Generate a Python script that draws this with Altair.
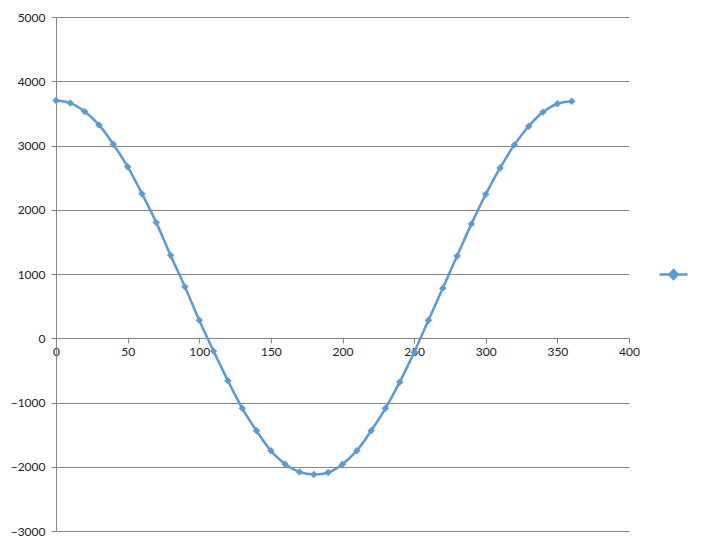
import altair as alt
import pandas as pd

xs = [0, 10, 20, 30, 40, 50, 60, 70, 80, 90, 100, 110, 120, 130, 140, 150, 160, 170, 180,
      190, 200, 210, 220, 230, 240, 250, 260, 270, 280, 290, 300, 310, 320, 330, 340, 350, 360]
ys = [3700, 3660, 3530, 3320, 3020, 2670, 2250, 1800, 1290, 800, 280, -200, -660, -1090,
      -1440, -1750, -1960, -2080, -2120, -2090, -1960, -1750, -1440, -1090, -680, -220,
      280, 780, 1280, 1780, 2240, 2650, 3010, 3300, 3520, 3650, 3690]
series_name = [""] * len(xs)

x_ticks = [0, 50, 100, 150, 200, 250, 300, 350, 400]
y_ticks = [-3000, -2000, -1000, 0, 1000, 2000, 3000, 4000, 5000]

df = pd.DataFrame({"x": xs, "y": ys, "series": series_name})

BLUE = "#5B9BD5"
GRAY = "#868686"
FONT = "Lato"

W, H = 573, 514
zero_offset = -int(round(H * (0 - (-3000)) / 8000))  # keep x axis on y = 0

xenc = alt.X("x:Q", scale=alt.Scale(domain=[0, 400], nice=False),
             axis=alt.Axis(values=x_ticks, grid=False, domainColor=GRAY, tickColor=GRAY,
                           tickSize=5, labelPadding=3, title=None, offset=zero_offset,
                           format="d", labelFlush=False, labelOverlap=False,
                           labelFont=FONT, labelFontSize=12, labelColor="#222222"))
yenc = alt.Y("y:Q", scale=alt.Scale(domain=[-3000, 5000], nice=False),
             axis=alt.Axis(values=y_ticks, grid=True, gridColor=GRAY, domainColor=GRAY,
                           tickColor=GRAY, tickSize=5, labelPadding=6, title=None,
                           format="d", labelFlush=False, labelOverlap=False,
                           labelFont=FONT, labelFontSize=12, labelColor="#222222"))

line = alt.Chart(df).mark_line(color=BLUE, strokeWidth=2.5, interpolate="catmull-rom").encode(
    x=xenc, y=yenc)

legend_path = "M-1,0L1,0M-0.3,0L0,-0.32L0.3,0L0,0.32Z"
points = alt.Chart(df).mark_point(shape="diamond", filled=True, size=55, opacity=1).encode(
    x="x:Q", y="y:Q",
    color=alt.Color("series:N", scale=alt.Scale(range=[BLUE]),
                    legend=alt.Legend(orient="none", legendX=602, legendY=242, title=None,
                                      symbolType=legend_path, symbolSize=784,
                                      symbolFillColor=BLUE, symbolStrokeColor=BLUE,
                                      symbolStrokeWidth=2.5, labelExpr="''")))

chart = (line + points).properties(
    width=W, height=H,
    background="white",
    autosize=alt.AutoSizeParams(type="none"),
    padding={"left": 48, "top": 9, "right": 71, "bottom": 10},
).configure_view(stroke="transparent", strokeWidth=0)

chart.save("out.html", embed_options={"renderer": "svg", "actions": False})
